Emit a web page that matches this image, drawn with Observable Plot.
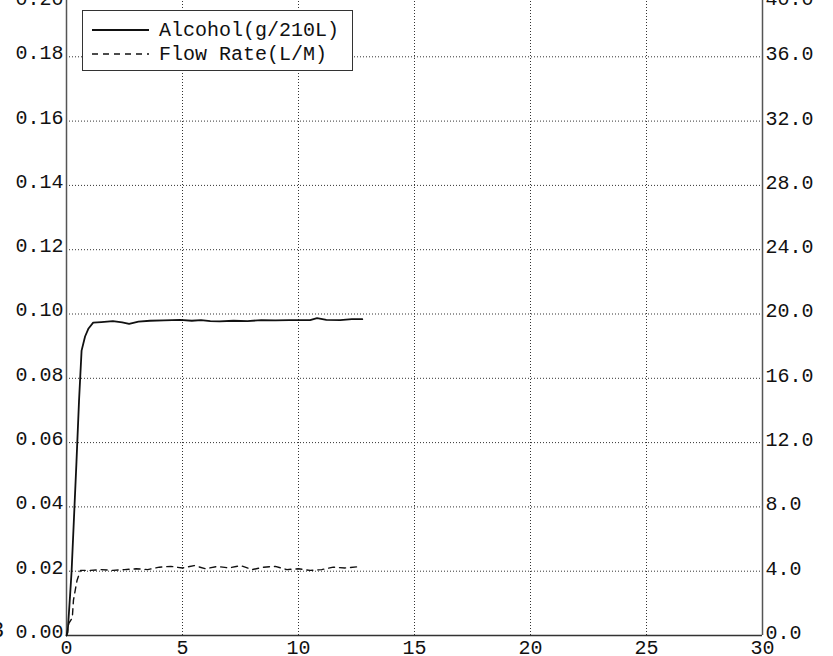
<!DOCTYPE html>
<html><head><meta charset="utf-8">
<script src="https://cdn.jsdelivr.net/npm/d3@7"></script>
<script src="https://cdn.jsdelivr.net/npm/@observablehq/plot@0.6"></script>
<style>
html,body{margin:0;padding:0;background:#fff;}
body{width:833px;height:656px;overflow:hidden;position:relative;font-family:"Liberation Mono",monospace;}
#chart{position:absolute;left:0;top:-28px;}
#legend{position:absolute;left:82px;top:10px;width:271px;height:61px;border:1px solid #333;background:#fff;box-sizing:border-box;}
#legend svg{position:absolute;left:0;top:0;}
#frag{position:absolute;left:-9px;top:621px;font-size:22px;line-height:22px;color:#111;font-family:"Liberation Mono",monospace;}
</style></head><body>
<div id="chart"></div>
<div id="legend"></div>
<div id="frag">3</div>
<script>
// Data (time in minutes)
const alcoholT = [0, 0.05, 0.15, 0.22, 0.43, 0.54, 0.65, 0.8, 0.95, 1.15, 1.5, 2.0, 2.4, 2.7, 3.1, 3.6, 4.2, 4.9, 5.4, 5.8, 6.2, 6.6, 7.2, 7.8, 8.4, 9.0, 9.6, 10.1, 10.5, 10.8, 11.2, 11.8, 12.3, 12.75];
const alcoholV = [0, 0.001, 0.012, 0.02, 0.054, 0.073, 0.0886, 0.093, 0.0955, 0.0973, 0.0975, 0.0978, 0.0974, 0.0969, 0.0976, 0.0979, 0.098, 0.0982, 0.0979, 0.0981, 0.0978, 0.0977, 0.0979, 0.0978, 0.0981, 0.098, 0.0981, 0.0981, 0.0981, 0.0987, 0.0982, 0.0981, 0.0984, 0.0984];
const flowT = [0, 0.1, 0.25, 0.3, 0.45, 0.6, 1.0, 1.5, 2.0, 2.5, 3.0, 3.5, 4.0, 4.5, 5.0, 5.5, 6.0, 6.5, 7.0, 7.5, 8.0, 8.5, 9.0, 9.5, 10.0, 10.5, 11.0, 11.5, 12.0, 12.7];
const flowV = [0, 0.75, 1.1, 2.2, 3.4, 4.05, 4.05, 4.1, 4.05, 4.1, 4.15, 4.1, 4.25, 4.3, 4.2, 4.35, 4.15, 4.3, 4.2, 4.35, 4.1, 4.25, 4.3, 4.1, 4.15, 4.05, 4.1, 4.25, 4.2, 4.3];
const xTicks = [0, 5, 10, 15, 20, 25, 30];
const leftTicks = [0, 0.02, 0.04, 0.06, 0.08, 0.10, 0.12, 0.14, 0.16, 0.18, 0.20];
const rightTicks = [0, 4, 8, 12, 16, 20, 24, 28, 32, 36, 40];
const legendLabels = ["Alcohol(g/210L)", "Flow Rate(L/M)"];

const alcohol = alcoholT.map((t, i) => ({t, v: alcoholV[i]}));
const flow = flowT.map((t, i) => ({t, v: flowV[i]}));
const ratio = rightTicks[rightTicks.length - 1] / leftTicks[leftTicks.length - 1];
const rightAsLeft = rightTicks.map(v => v / ratio);

const plot = Plot.plot({
  width: 833,
  height: 708,
  marginTop: 20,
  marginBottom: 45,
  marginLeft: 66,
  marginRight: 71,
  style: {fontFamily: "Liberation Mono, monospace", fontSize: "20px", color: "#111", background: "transparent"},
  x: {domain: [0, 30]},
  y: {domain: [0, 0.2]},
  marks: [
    Plot.gridY(leftTicks.slice(1), {stroke: "#333", strokeOpacity: 1, strokeDasharray: "1,2"}),
    Plot.gridX(xTicks.slice(1, -1), {stroke: "#333", strokeOpacity: 1, strokeDasharray: "1,2"}),
    Plot.ruleX([0, 30], {stroke: "#555", strokeWidth: 1.5}),
    Plot.ruleY([0], {stroke: "#333", strokeWidth: 1.5}),
    Plot.line(flow, {x: "t", y: d => d.v / ratio, stroke: "#111", strokeWidth: 1.4, strokeDasharray: "6,5"}),
    Plot.line(alcohol, {x: "t", y: "v", stroke: "#111", strokeWidth: 1.8}),
    Plot.axisX({ticks: xTicks, tickSize: 0, tickPadding: 4, tickFormat: d => String(d), label: null}),
    Plot.axisY({anchor: "left", ticks: leftTicks.slice(0, -1), tickSize: 0, tickPadding: 3, dy: -4, tickFormat: d => d.toFixed(2), label: null}),
    Plot.axisY({anchor: "left", ticks: leftTicks.slice(-1), tickSize: 0, tickPadding: 3, dy: 6, tickFormat: d => d.toFixed(2), label: null}),
    Plot.axisY({anchor: "right", ticks: rightAsLeft.slice(0, -1), tickSize: 0, tickPadding: 3, dy: -3, tickFormat: d => (d * ratio).toFixed(1), label: null}),
    Plot.axisY({anchor: "right", ticks: rightAsLeft.slice(-1), tickSize: 0, tickPadding: 3, dy: 6, tickFormat: d => (d * ratio).toFixed(1), label: null})
  ]
});
document.getElementById("chart").appendChild(plot);

// Legend
const lg = d3.select("#legend").append("svg").attr("width", 271).attr("height", 61);
const rows = [{y: 19, dash: null}, {y: 43, dash: "6,5"}];
rows.forEach((r, i) => {
  lg.append("line").attr("x1", 9).attr("x2", 66).attr("y1", r.y).attr("y2", r.y)
    .attr("stroke", "#111").attr("stroke-width", i === 0 ? 1.8 : 1.4)
    .attr("stroke-dasharray", r.dash);
  lg.append("text").attr("x", 76).attr("y", r.y).attr("dy", "0.32em")
    .attr("font-family", "Liberation Mono, monospace").attr("font-size", 20).attr("fill", "#111")
    .text(legendLabels[i]);
});
</script>
</body></html>
